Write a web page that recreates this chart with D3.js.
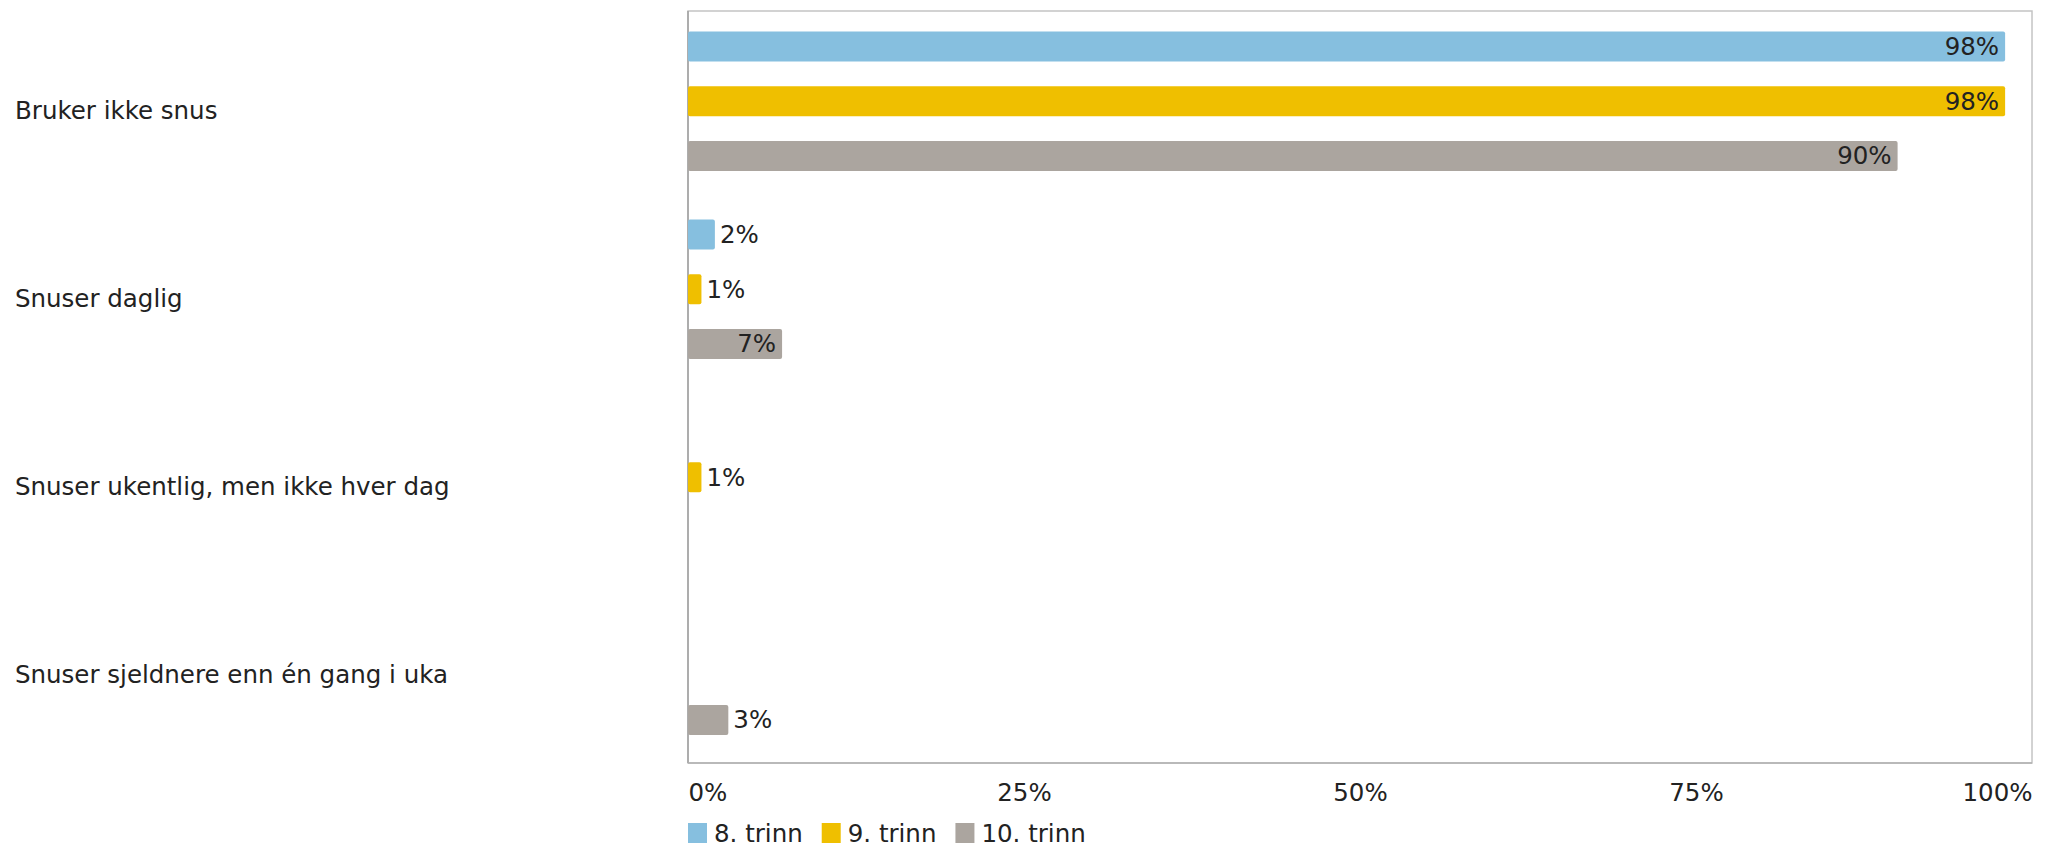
<!DOCTYPE html>
<html>
<head>
<meta charset="utf-8">
<script src="https://cdn.jsdelivr.net/npm/d3@7"></script>
<style>
  html, body { margin: 0; padding: 0; background: #ffffff; }
  svg { display: block; }
  text { font-family: "DejaVu Sans", Verdana, sans-serif; fill: #222; }
</style>
</head>
<body>
<svg id="chart" width="2049" height="849"></svg>
<script>
const categories = [
  "Bruker ikke snus",
  "Snuser daglig",
  "Snuser ukentlig, men ikke hver dag",
  "Snuser sjeldnere enn én gang i uka"
];
const seriesNames = ["8. trinn", "9. trinn", "10. trinn"];
const trinn8  = [98, 2, null, null];
const trinn9  = [98, 1, 1, null];
const trinn10 = [90, 7, null, 3];
const tickValues = [0, 25, 50, 75, 100];
const tickLabels = ["0%", "25%", "50%", "75%", "100%"];
const colors = ["#86bfdf", "#efbf00", "#aba59f"];

const seriesValues = [trinn8, trinn9, trinn10];

const svg = d3.select("#chart");
const plot = { left: 688, right: 2032, top: 11, bottom: 763 };
const fontSize = 24.5;

const x = d3.scaleLinear().domain([0, 100]).range([plot.left, plot.right]);
const y0 = d3.scaleBand().domain(categories).range([plot.top, plot.bottom]).padding(0);
const bandH = y0.bandwidth();
const y1 = d3.scaleBand().domain(seriesNames)
  .range([bandH * 0.045, bandH * 0.915])
  .paddingInner(0.45).paddingOuter(0.22);

// frame
svg.append("rect")
  .attr("x", plot.left).attr("y", plot.top)
  .attr("width", plot.right - plot.left).attr("height", plot.bottom - plot.top)
  .attr("fill", "none").attr("stroke", "#c4c4c4").attr("stroke-width", 1.5);
svg.append("line")
  .attr("x1", plot.left).attr("x2", plot.left)
  .attr("y1", plot.top).attr("y2", plot.bottom)
  .attr("stroke", "#a0a0a0").attr("stroke-width", 1.5);
svg.append("line")
  .attr("x1", plot.left).attr("x2", plot.right)
  .attr("y1", plot.bottom).attr("y2", plot.bottom)
  .attr("stroke", "#b0b0b0").attr("stroke-width", 1.5);

// data
const rows = [];
categories.forEach((c, ci) => {
  seriesNames.forEach((s, si) => {
    const v = seriesValues[si][ci];
    if (v !== null && v !== undefined) rows.push({ cat: c, series: s, si, value: v });
  });
});

const g = svg.append("g");
g.selectAll("rect.bar").data(rows).join("rect")
  .attr("class", "bar")
  .attr("x", x(0))
  .attr("y", d => y0(d.cat) + y1(d.series))
  .attr("width", d => x(d.value) - x(0))
  .attr("height", y1.bandwidth())
  .attr("rx", 2)
  .attr("fill", d => colors[d.si]);

g.selectAll("text.val").data(rows).join("text")
  .attr("class", "val")
  .style("font-size", fontSize + "px")
  .attr("dominant-baseline", "central")
  .attr("y", d => y0(d.cat) + y1(d.series) + y1.bandwidth() / 2)
  .each(function(d) {
    const t = d3.select(this).text(d.value + "%");
    const w = this.getComputedTextLength();
    const barW = x(d.value) - x(0);
    if (barW > w + 14) {
      t.attr("x", x(d.value) - 6).attr("text-anchor", "end");
    } else {
      t.attr("x", x(d.value) + 5).attr("text-anchor", "start");
    }
  });

// category labels
svg.selectAll("text.cat").data(categories).join("text")
  .attr("class", "cat")
  .style("font-size", fontSize + "px")
  .attr("x", 15)
  .attr("y", d => y0(d) + bandH / 2 + 5)
  .attr("dominant-baseline", "central")
  .text(d => d);

// x axis labels
const xAxis = d3.axisBottom(x).tickValues(tickValues)
  .tickFormat((d, i) => tickLabels[i]).tickSize(0).tickPadding(0);
const ax = svg.append("g").attr("transform", `translate(0,${plot.bottom})`).call(xAxis);
ax.select(".domain").remove();
ax.selectAll("text")
  .style("font-size", fontSize + "px")
  .style("font-family", "\"DejaVu Sans\", Verdana, sans-serif")
  .attr("fill", "#222")
  .attr("y", 29)
  .attr("dy", "0")
  .attr("dominant-baseline", "central")
  .attr("text-anchor", (d, i) => i === 0 ? "start" : (i === tickValues.length - 1 ? "end" : "middle"));

// legend
const legend = svg.append("g").attr("transform", `translate(${plot.left},833)`);
let lx = 0;
seriesNames.forEach((s, i) => {
  const item = legend.append("g").attr("transform", `translate(${lx},0)`);
  item.append("rect").attr("x", 0).attr("y", -10).attr("width", 19).attr("height", 20)
    .attr("fill", colors[i]);
  const t = item.append("text").attr("x", 26).attr("y", 0)
    .attr("dominant-baseline", "central")
    .style("font-size", fontSize + "px").text(s);
  lx += 26 + t.node().getComputedTextLength() + 19;
});
</script>
</body>
</html>
